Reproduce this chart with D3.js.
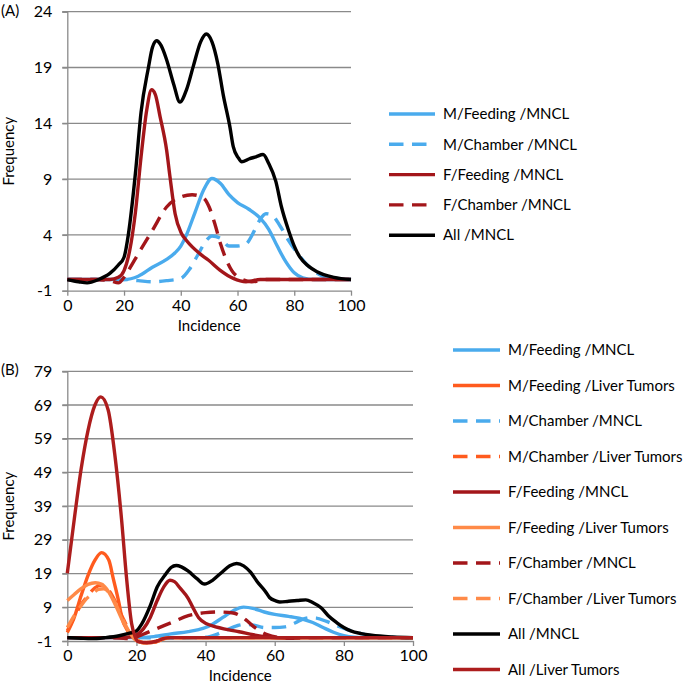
<!DOCTYPE html>
<html><head><meta charset="utf-8">
<script src="https://cdn.jsdelivr.net/npm/d3@7"></script>
<style>
html,body{margin:0;padding:0;background:#fff;}
svg text{font-family:Lato,"Open Sans",sans-serif;fill:#000;}
</style></head>
<body><svg id="chart" width="690" height="690"></svg>
<script>
// ---------- data (x = incidence, y = frequency) ----------
const xTicks = [0, 20, 40, 60, 80, 100];
const yTicksA = [-1, 4, 9, 14, 19, 24];
const yTicksB = [-1, 9, 19, 29, 39, 49, 59, 69, 79];

const mFeedingMNCL = [[0,0],[20,0],[25,0.3],[30,1.1],[35,1.8],[38,2.4],[40,3.0],[42,4.0],[45,6.0],[48,8.0],[51,9.05],[54,8.6],[57,7.6],[60,6.9],[64,6.3],[68,5.5],[71,4.5],[74,3.0],[77,1.6],[80,0.6],[83,0.15],[87,0],[100,0]];
const mChamberMNCL = [[0,0],[20,0],[25,-0.1],[30,-0.2],[35,-0.1],[40,0.1],[43,0.9],[46,2.2],[49,3.5],[51,3.9],[54,3.7],[57,3.0],[60,3.0],[63,3.2],[66,4.4],[68,5.4],[70,5.9],[72,5.8],[75,4.8],[78,3.5],[81,2.4],[85,1.2],[90,0.3],[95,0.05],[100,0]];
const fFeedingMNCL = [[0,0],[15,0],[18,0.2],[20,0.8],[22,2.6],[24,6.0],[26,11],[28,15.2],[29.7,17],[31,16.6],[32.7,14.6],[35,11.6],[36.2,9.2],[38,5.9],[40.3,4.1],[42,3.5],[46.8,2.3],[49.7,1.75],[53.8,0.85],[58.5,0.1],[63,-0.2],[68,0],[100,0]];
const fChamberMNCL = [[0,0],[10,0],[15,-0.1],[18,-0.3],[20,0.2],[22,1.0],[25,2.3],[30,4.4],[35,6.5],[40,7.4],[44,7.6],[48,7.3],[50,6.5],[52,5.0],[54,3.2],[56,1.8],[58,0.8],[61,0.1],[65,-0.2],[70,0],[100,0]];
const allMNCL = [[0,0],[4,-0.2],[7,-0.3],[11,0],[15,0.55],[18,1.3],[20,2.0],[21.5,4.0],[24,9.5],[26,15],[28.6,19],[30,20.8],[31.5,21.4],[33,21],[35,19.7],[37.5,17.5],[39.7,15.9],[42,17.0],[44.4,19.1],[47,21.3],[49,22],[51,21.3],[53,19.4],[55,16.5],[57.3,13.7],[58.5,11.9],[60.3,10.9],[61.5,10.55],[64,10.8],[66.5,11],[69,11.2],[71,10.4],[73.5,8.8],[75.5,6.5],[78,4.4],[80,3.0],[82,2.0],[85,1.2],[88,0.7],[94,0.2],[100,0]];

const mFeedingLiver = [[0,1.5],[2,6],[4,12.5],[6,18.5],[8,23],[9.9,25.2],[12,23],[13.3,17.5],[15,10],[15.7,6.2],[17.6,1.8],[19,0],[20,-0.8],[22,-1.5],[25,-1.4],[28,-0.3],[30,0],[100,0]];
const mChamberLiver = [[0,2],[2,6],[4,9.8],[6,12.5],[8,14.8],[10,15.6],[12,14],[14,10.5],[16,6],[18,2],[20,-0.5],[22,-1.5],[25,-1.4],[28,-0.3],[30,0],[100,0]];
const fFeedingLiver = [[0,11],[2,12.8],[4,14.5],[6,15.8],[8.1,16.3],[10,15.8],[12,13.5],[14,9.5],[16,5],[18,1.5],[20,-0.8],[22,-1.5],[25,-1.3],[28,-0.3],[30,0],[100,0]];
const fChamberLiver = [[0,3],[2,6.5],[3.8,9.2],[5.5,11.5],[7.1,12.8],[9,14.3],[10.5,14.5],[12,13.5],[14,10],[16,5.5],[18,1.5],[20,-0.7],[22,-1.5],[25,-1.3],[28,-0.3],[30,0],[100,0]];
const allLiver = [[0,19.1],[2,35],[4,50],[6,61.5],[8,69],[9.7,71.4],[11.8,67.6],[13.8,53.8],[15.7,35],[17.1,18.1],[18.6,4.2],[19.6,0.3],[20.5,-1.2],[23,-1.5],[26,-1],[28,-0.2],[30,0],[100,0]];

const seriesA = [
  {name:"M/Feeding /MNCL", data:mFeedingMNCL, color:"#4aabed", dash:false},
  {name:"M/Chamber /MNCL", data:mChamberMNCL, color:"#4aabed", dash:true},
  {name:"F/Feeding /MNCL", data:fFeedingMNCL, color:"#a3161a", dash:false},
  {name:"F/Chamber /MNCL", data:fChamberMNCL, color:"#a3161a", dash:true},
  {name:"All /MNCL", data:allMNCL, color:"#000000", dash:false}
];
const seriesB = [
  {name:"M/Feeding /MNCL", data:mFeedingMNCL, color:"#4aabed", dash:false},
  {name:"M/Feeding /Liver Tumors", data:mFeedingLiver, color:"#ff5b1e", dash:false},
  {name:"M/Chamber /MNCL", data:mChamberMNCL, color:"#4aabed", dash:true},
  {name:"M/Chamber /Liver Tumors", data:mChamberLiver, color:"#ff5b1e", dash:true},
  {name:"F/Feeding /MNCL", data:fFeedingMNCL, color:"#a3161a", dash:false},
  {name:"F/Feeding /Liver Tumors", data:fFeedingLiver, color:"#ff8a48", dash:false},
  {name:"F/Chamber /MNCL", data:fChamberMNCL, color:"#a3161a", dash:true},
  {name:"F/Chamber /Liver Tumors", data:fChamberLiver, color:"#ff8a48", dash:true},
  {name:"All /MNCL", data:allMNCL, color:"#000000", dash:false},
  {name:"All /Liver Tumors", data:allLiver, color:"#ad1d1d", dash:false}
];

// ---------- drawing ----------
const svg = d3.select("#chart");
const DASH = "14.5 8.5";
const LW = 3.4;
const GRID = "#8a8a8a";
const FS = 15;

function panel(cfg){
  const g = svg.append("g");
  const x = d3.scaleLinear().domain([0,100]).range([cfg.left, cfg.right]);
  const y = d3.scaleLinear().domain([cfg.yTicks[0], cfg.yTicks[cfg.yTicks.length-1]]).range([cfg.bottom, cfg.top]);

  // gridlines
  g.append("g").selectAll("line").data(cfg.yTicks.slice(1)).join("line")
    .attr("x1", cfg.left-5).attr("x2", cfg.right)
    .attr("y1", d=>y(d)).attr("y2", d=>y(d))
    .attr("stroke", GRID).attr("stroke-width", 1.3);

  // y axis
  const ya = g.append("g").attr("transform", `translate(${cfg.left},0)`)
    .call(d3.axisLeft(y).tickValues(cfg.yTicks).tickFormat(d=>String(d)).tickSize(5).tickPadding(10));
  ya.select(".domain").attr("stroke", GRID).attr("stroke-width", 1.3);
  ya.selectAll(".tick line").attr("stroke", GRID).attr("stroke-width", 1.3);
  ya.selectAll("text").attr("font-size", 16).attr("font-family","Lato,sans-serif");

  // x axis
  const xa = g.append("g").attr("transform", `translate(0,${cfg.bottom})`)
    .call(d3.axisBottom(x).tickValues(xTicks).tickFormat(d=>String(d)).tickSize(5).tickPadding(4).tickSizeOuter(0));
  xa.select(".domain").attr("stroke", GRID).attr("stroke-width", 1.3);
  xa.selectAll(".tick line").attr("stroke", GRID).attr("stroke-width", 1.3);
  xa.selectAll("text").attr("font-size", 16).attr("font-family","Lato,sans-serif");

  // titles
  g.append("text").attr("x", (cfg.left+cfg.right)/2).attr("y", cfg.bottom+40)
    .attr("text-anchor","middle").attr("font-size",FS).text("Incidence");
  g.append("text").attr("transform", `translate(14,${(cfg.top+cfg.bottom)/2}) rotate(-90)`)
    .attr("text-anchor","middle").attr("font-size",FS).text("Frequency");
  g.append("text").attr("x", 1).attr("y", cfg.top+3.8).attr("font-size",FS).text(cfg.label);

  // lines
  const line = d3.line().x(d=>x(d[0])).y(d=>y(d[1])).curve(d3.curveMonotoneX);
  g.append("g").selectAll("path").data(cfg.series).join("path")
    .attr("d", d=>line(d.data))
    .attr("fill","none").attr("stroke", d=>d.color).attr("stroke-width", LW)
    .attr("stroke-linejoin","round")
    .attr("stroke-dasharray", d=>d.dash?DASH:null);

  // legend
  const lg = g.append("g").selectAll("g").data(cfg.series).join("g")
    .attr("transform", (d,i)=>`translate(${cfg.legX},${cfg.legY + i*cfg.legStep})`);
  lg.append("line").attr("x1",0).attr("x2",cfg.legLen).attr("y1",0).attr("y2",0)
    .attr("stroke", d=>d.color).attr("stroke-width", LW)
    .attr("stroke-dasharray", d=>d.dash?DASH:null);
  lg.append("text").attr("x", cfg.legLen+ cfg.legGap).attr("y", 0).attr("dy","0.35em")
    .attr("font-size",FS).text(d=>d.name);
}

panel({left:67.3, right:351, top:11.7, bottom:290.7, yTicks:yTicksA, series:seriesA, label:"(A)",
       legX:389, legY:114, legStep:30.3, legLen:46, legGap:8});
panel({left:67.3, right:413, top:371.3, bottom:641, yTicks:yTicksB, series:seriesB, label:"(B)",
       legX:453, legY:350, legStep:35.5, legLen:47, legGap:8});
</script>
</body></html>
